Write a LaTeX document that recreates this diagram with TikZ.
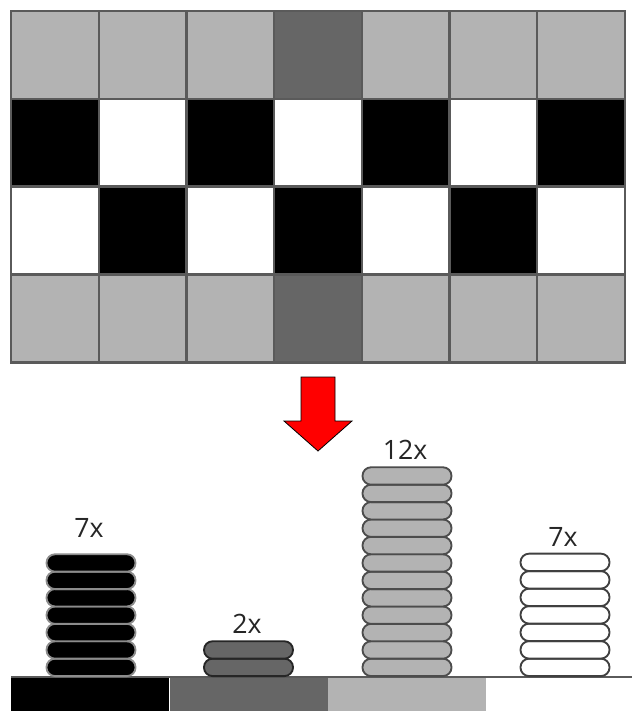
\documentclass[tikz,border=0pt]{standalone}
\usepackage{fontspec}
\setmainfont{Open Sans}
\definecolor{lgray}{HTML}{B3B3B3}
\definecolor{dgray}{HTML}{666666}
\definecolor{gridline}{HTML}{5A5A5A}
\definecolor{discline}{HTML}{333333}
\begin{document}
\begin{tikzpicture}[x=0.75pt,y=-0.75pt,
  cell/.style={draw=gridline,line width=1.7pt,minimum width=87.7*0.75pt,minimum height=87.9*0.75pt,inner sep=0pt,outer sep=0pt,anchor=north west},
  disc/.style={draw=discline,line width=1.4pt,rounded corners=6.4pt,minimum width=89*0.75pt,minimum height=17.4*0.75pt,inner sep=0pt,anchor=south},
  cnt/.style={font=\fontsize{20}{24}\selectfont,text=black!85,inner sep=0pt},
  barpart/.style={inner sep=0pt,outer sep=0pt,anchor=north west,minimum height=34*0.75pt,minimum width=158*0.75pt}]
\useasboundingbox (0,0) rectangle (632,711);
% grid
\foreach \r/\cols in {1/{lgray,lgray,lgray,dgray,lgray,lgray,lgray},
                      2/{black,white,black,white,black,white,black},
                      3/{white,black,white,black,white,black,white},
                      4/{lgray,lgray,lgray,dgray,lgray,lgray,lgray}}{
  \foreach \col [count=\c] in \cols {
    \node[cell,fill=\col] (g-\r-\c) at ({11+(\c-1)*87.7},{10.8+(\r-1)*87.9}) {};
  }
}
% arrow
\fill[red,draw=black,line width=0.6pt,line join=miter]
  (301,377) -- (335,377) -- (335,421) -- (352,421) -- (318,451) -- (284,421) -- (301,421) -- cycle;
% bar
\node[barpart,fill=black] (b1) at (11,677) {};
\node[barpart,fill=dgray] (b2) at (170,677) {};
\node[barpart,fill=lgray] (b3) at (328,677) {};
\node[barpart,fill=white,minimum width=146*0.75pt] (b4) at (486,677) {};
\draw[gridline,line width=1.3pt] (b1.north west) -- (b4.north east);
% stacks
\foreach \i in {0,...,6}{
  \node[disc,fill=black,draw=black!45] (k\i) at (91,{677-\i*17.4}) {};
}
\foreach \i in {0,1}{
  \node[disc,fill=dgray,draw=black!85] (d\i) at (248.5,{677-\i*17.4}) {};
}
\foreach \i in {0,...,11}{
  \node[disc,fill=lgray,draw=black!70] (l\i) at (407,{677-\i*17.4}) {};
}
\foreach \i in {0,...,6}{
  \node[disc,fill=white,draw=black!75] (w\i) at (565,{677-\i*17.5}) {};
}
% labels
\node[cnt] (t1) at (89,528) {7x};
\node[cnt] (t2) at (247,624) {2x};
\node[cnt] (t3) at (405,449.5) {12x};
\node[cnt] (t4) at (563,537) {7x};
\end{tikzpicture}
\end{document}
